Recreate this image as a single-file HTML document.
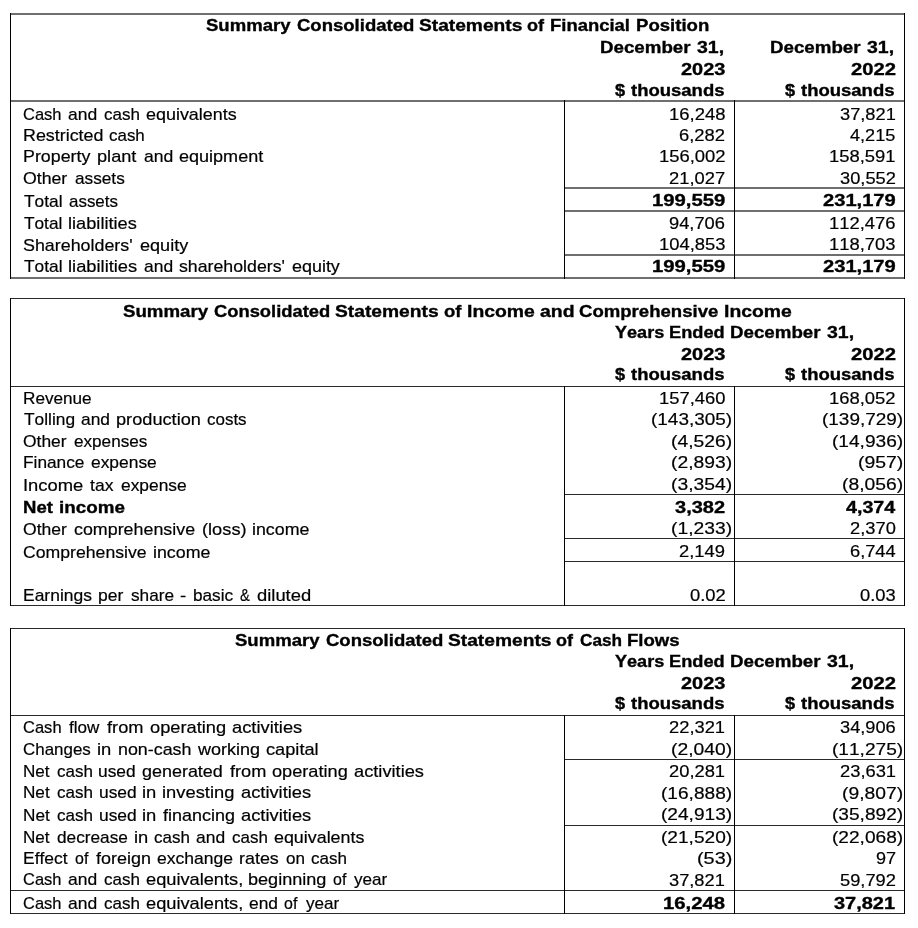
<!DOCTYPE html>
<html><head><meta charset="utf-8"><title>Summary Consolidated Statements</title>
<style>
html,body{margin:0;padding:0;background:#fff;}
body{width:918px;height:928px;position:relative;overflow:hidden;}
#w{position:absolute;left:0;top:0;width:918px;height:928px;filter:grayscale(1);}
.t{position:absolute;white-space:pre;font-family:"Liberation Sans",sans-serif;font-size:17.0px;line-height:20px;color:#000;-webkit-text-stroke:0.2px #000;transform-origin:0 0;font-kerning:none;font-variant-ligatures:none;}
.b{font-weight:bold;-webkit-text-stroke:0.35px #000;}
.l{position:absolute;}
</style></head><body><div id="w">
<div class="l" style="left:10px;top:13px;width:895px;height:2px;background:#6f6f6f"></div>
<div class="l" style="left:10px;top:100px;width:895px;height:2px;background:#6f6f6f"></div>
<div class="l" style="left:10px;top:277px;width:895px;height:2px;background:#6f6f6f"></div>
<div class="l" style="left:564px;top:187px;width:341px;height:2px;background:#6f6f6f"></div>
<div class="l" style="left:564px;top:210px;width:341px;height:2px;background:#6f6f6f"></div>
<div class="l" style="left:564px;top:254px;width:341px;height:2px;background:#6f6f6f"></div>
<div class="l" style="left:10px;top:13px;width:1px;height:266px;background:#000"></div>
<div class="l" style="left:904px;top:13px;width:1px;height:266px;background:#000"></div>
<div class="l" style="left:564px;top:100px;width:1px;height:179px;background:#000"></div>
<div class="l" style="left:734px;top:100px;width:1px;height:179px;background:#000"></div>
<div class="l" style="left:10px;top:298px;width:895px;height:1px;background:#2a2a2a"></div>
<div class="l" style="left:10px;top:386px;width:895px;height:1px;background:#2a2a2a"></div>
<div class="l" style="left:10px;top:605px;width:895px;height:1px;background:#2a2a2a"></div>
<div class="l" style="left:564px;top:494px;width:341px;height:1px;background:#2a2a2a"></div>
<div class="l" style="left:564px;top:538px;width:341px;height:1px;background:#2a2a2a"></div>
<div class="l" style="left:564px;top:561px;width:341px;height:1px;background:#2a2a2a"></div>
<div class="l" style="left:10px;top:298px;width:1px;height:308px;background:#000"></div>
<div class="l" style="left:904px;top:298px;width:1px;height:308px;background:#000"></div>
<div class="l" style="left:564px;top:386px;width:1px;height:220px;background:#000"></div>
<div class="l" style="left:734px;top:386px;width:1px;height:220px;background:#000"></div>
<div class="l" style="left:10px;top:628px;width:895px;height:1px;background:#2a2a2a"></div>
<div class="l" style="left:10px;top:715px;width:895px;height:1px;background:#2a2a2a"></div>
<div class="l" style="left:10px;top:913px;width:895px;height:1px;background:#2a2a2a"></div>
<div class="l" style="left:564px;top:759px;width:341px;height:1px;background:#2a2a2a"></div>
<div class="l" style="left:564px;top:825px;width:341px;height:1px;background:#2a2a2a"></div>
<div class="l" style="left:10px;top:890px;width:895px;height:1px;background:#2a2a2a"></div>
<div class="l" style="left:10px;top:628px;width:1px;height:286px;background:#000"></div>
<div class="l" style="left:904px;top:628px;width:1px;height:286px;background:#000"></div>
<div class="l" style="left:564px;top:715px;width:1px;height:199px;background:#000"></div>
<div class="l" style="left:734px;top:715px;width:1px;height:199px;background:#000"></div>
<div class="t b" style="left:680.51px;top:60.00px;transform:scaleX(1.1741)">2023</div>
<div class="t b" style="left:850.80px;top:60.00px;transform:scaleX(1.1899)">2022</div>
<div class="t" style="left:23.36px;top:105.00px;transform:scaleX(0.9715)">Cash</div>
<div class="t" style="left:68.24px;top:105.00px;transform:scaleX(1.0302)">and</div>
<div class="t" style="left:103.76px;top:105.00px;transform:scaleX(1.0029)">cash</div>
<div class="t" style="left:146.05px;top:105.00px;transform:scaleX(1.0544)">equivalents</div>
<div class="t" style="left:668.75px;top:105.00px;transform:scaleX(1.0856)">16,248</div>
<div class="t" style="left:839.86px;top:105.00px;transform:scaleX(1.0736)">37,821</div>
<div class="t" style="left:22.73px;top:126.00px;transform:scaleX(1.0511)">Restricted</div>
<div class="t" style="left:109.39px;top:126.00px;transform:scaleX(0.9968)">cash</div>
<div class="t" style="left:679.28px;top:126.00px;transform:scaleX(1.0822)">6,282</div>
<div class="t" style="left:850.20px;top:126.00px;transform:scaleX(1.0662)">4,215</div>
<div class="t" style="left:22.74px;top:147.00px;transform:scaleX(1.0480)">Property</div>
<div class="t" style="left:97.03px;top:147.00px;transform:scaleX(1.0689)">plant</div>
<div class="t" style="left:143.73px;top:147.00px;transform:scaleX(1.0336)">and</div>
<div class="t" style="left:179.33px;top:147.00px;transform:scaleX(1.0606)">equipment</div>
<div class="t" style="left:658.70px;top:147.00px;transform:scaleX(1.0842)">156,002</div>
<div class="t" style="left:829.10px;top:147.00px;transform:scaleX(1.0838)">158,591</div>
<div class="t" style="left:23.36px;top:169.00px;transform:scaleX(1.0412)">Other</div>
<div class="t" style="left:74.86px;top:169.00px;transform:scaleX(1.0127)">assets</div>
<div class="t" style="left:669.24px;top:169.00px;transform:scaleX(1.0786)">21,027</div>
<div class="t" style="left:839.86px;top:169.00px;transform:scaleX(1.0742)">30,552</div>
<div class="t" style="left:23.81px;top:192.00px;transform:scaleX(1.0188)">Total</div>
<div class="t" style="left:68.54px;top:192.00px;transform:scaleX(0.9965)">assets</div>
<div class="t b" style="left:651.80px;top:191.00px;transform:scaleX(1.1936)">199,559</div>
<div class="t b" style="left:822.78px;top:191.00px;transform:scaleX(1.1841)">231,179</div>
<div class="t" style="left:23.81px;top:214.00px;transform:scaleX(1.0138)">Total</div>
<div class="t" style="left:67.81px;top:214.00px;transform:scaleX(1.0715)">liabilities</div>
<div class="t" style="left:669.30px;top:214.00px;transform:scaleX(1.0750)">94,706</div>
<div class="t" style="left:829.10px;top:214.00px;transform:scaleX(1.0823)">112,476</div>
<div class="t" style="left:23.39px;top:236.00px;transform:scaleX(1.0505)">Shareholders&#39;</div>
<div class="t" style="left:139.53px;top:236.00px;transform:scaleX(1.0623)">equity</div>
<div class="t" style="left:658.70px;top:235.00px;transform:scaleX(1.0823)">104,853</div>
<div class="t" style="left:829.10px;top:235.00px;transform:scaleX(1.0823)">118,703</div>
<div class="t" style="left:23.81px;top:257.00px;transform:scaleX(1.0187)">Total</div>
<div class="t" style="left:68.03px;top:257.00px;transform:scaleX(1.0767)">liabilities</div>
<div class="t" style="left:143.91px;top:257.00px;transform:scaleX(1.0257)">and</div>
<div class="t" style="left:179.49px;top:257.00px;transform:scaleX(1.0435)">shareholders&#39;</div>
<div class="t" style="left:291.88px;top:257.00px;transform:scaleX(1.0545)">equity</div>
<div class="t b" style="left:651.80px;top:257.00px;transform:scaleX(1.1936)">199,559</div>
<div class="t b" style="left:822.78px;top:257.00px;transform:scaleX(1.1841)">231,179</div>
<div class="t b" style="left:680.51px;top:345.00px;transform:scaleX(1.1741)">2023</div>
<div class="t b" style="left:850.80px;top:345.00px;transform:scaleX(1.1899)">2022</div>
<div class="t" style="left:22.79px;top:389.00px;transform:scaleX(1.0090)">Revenue</div>
<div class="t" style="left:658.70px;top:389.00px;transform:scaleX(1.0808)">157,460</div>
<div class="t" style="left:829.10px;top:389.00px;transform:scaleX(1.0842)">168,052</div>
<div class="t" style="left:23.81px;top:410.00px;transform:scaleX(1.0209)">Tolling</div>
<div class="t" style="left:81.16px;top:410.00px;transform:scaleX(1.0220)">and</div>
<div class="t" style="left:115.94px;top:410.00px;transform:scaleX(1.0692)">production</div>
<div class="t" style="left:207.00px;top:410.00px;transform:scaleX(0.9981)">costs</div>
<div class="t" style="left:651.33px;top:410.00px;transform:scaleX(1.1150)">(143,305)</div>
<div class="t" style="left:821.73px;top:410.00px;transform:scaleX(1.1150)">(139,729)</div>
<div class="t" style="left:23.38px;top:432.00px;transform:scaleX(1.0244)">Other</div>
<div class="t" style="left:74.03px;top:432.00px;transform:scaleX(1.0076)">expenses</div>
<div class="t" style="left:671.42px;top:432.00px;transform:scaleX(1.1336)">(4,526)</div>
<div class="t" style="left:831.77px;top:432.00px;transform:scaleX(1.1229)">(14,936)</div>
<div class="t" style="left:22.78px;top:453.00px;transform:scaleX(1.0162)">Finance</div>
<div class="t" style="left:90.91px;top:453.00px;transform:scaleX(1.0231)">expense</div>
<div class="t" style="left:671.42px;top:453.00px;transform:scaleX(1.1336)">(2,893)</div>
<div class="t" style="left:857.62px;top:453.00px;transform:scaleX(1.1409)">(957)</div>
<div class="t" style="left:22.50px;top:476.00px;transform:scaleX(1.0814)">Income</div>
<div class="t" style="left:89.87px;top:476.00px;transform:scaleX(1.0325)">tax</div>
<div class="t" style="left:120.53px;top:476.00px;transform:scaleX(1.0227)">expense</div>
<div class="t" style="left:671.42px;top:475.00px;transform:scaleX(1.1336)">(3,354)</div>
<div class="t" style="left:841.82px;top:475.00px;transform:scaleX(1.1336)">(8,056)</div>
<div class="t b" style="left:675.12px;top:498.00px;transform:scaleX(1.1771)">3,382</div>
<div class="t b" style="left:845.68px;top:498.00px;transform:scaleX(1.1569)">4,374</div>
<div class="t" style="left:23.37px;top:520.00px;transform:scaleX(1.0327)">Other</div>
<div class="t" style="left:74.41px;top:520.00px;transform:scaleX(1.0502)">comprehensive</div>
<div class="t" style="left:201.72px;top:520.00px;transform:scaleX(1.0724)">(loss)</div>
<div class="t" style="left:252.13px;top:520.00px;transform:scaleX(1.0483)">income</div>
<div class="t" style="left:671.42px;top:519.00px;transform:scaleX(1.1336)">(1,233)</div>
<div class="t" style="left:849.69px;top:519.00px;transform:scaleX(1.0769)">2,370</div>
<div class="t" style="left:23.30px;top:543.00px;transform:scaleX(1.0379)">Comprehensive</div>
<div class="t" style="left:153.07px;top:543.00px;transform:scaleX(1.0477)">income</div>
<div class="t" style="left:679.29px;top:542.00px;transform:scaleX(1.0807)">2,149</div>
<div class="t" style="left:849.69px;top:542.00px;transform:scaleX(1.0728)">6,744</div>
<div class="t" style="left:22.77px;top:586.00px;transform:scaleX(1.0273)">Earnings</div>
<div class="t" style="left:98.08px;top:586.00px;transform:scaleX(1.0285)">per</div>
<div class="t" style="left:130.72px;top:586.00px;transform:scaleX(1.0137)">share</div>
<div class="t" style="left:180.37px;top:586.00px;transform:scaleX(1.1036)">-</div>
<div class="t" style="left:192.82px;top:586.00px;transform:scaleX(1.0104)">basic</div>
<div class="t" style="left:240.09px;top:586.00px;transform:scaleX(0.8614)">&amp;</div>
<div class="t" style="left:256.99px;top:586.00px;transform:scaleX(1.0815)">diluted</div>
<div class="t" style="left:689.56px;top:586.00px;transform:scaleX(1.0808)">0.02</div>
<div class="t" style="left:859.96px;top:586.00px;transform:scaleX(1.0772)">0.03</div>
<div class="t b" style="left:680.51px;top:674.00px;transform:scaleX(1.1741)">2023</div>
<div class="t b" style="left:850.80px;top:674.00px;transform:scaleX(1.1899)">2022</div>
<div class="t" style="left:23.36px;top:718.00px;transform:scaleX(0.9720)">Cash</div>
<div class="t" style="left:68.77px;top:718.00px;transform:scaleX(1.0039)">flow</div>
<div class="t" style="left:107.04px;top:718.00px;transform:scaleX(1.0725)">from</div>
<div class="t" style="left:149.68px;top:718.00px;transform:scaleX(1.0731)">operating</div>
<div class="t" style="left:231.94px;top:718.00px;transform:scaleX(1.0772)">activities</div>
<div class="t" style="left:669.24px;top:718.00px;transform:scaleX(1.0781)">22,321</div>
<div class="t" style="left:839.86px;top:718.00px;transform:scaleX(1.0719)">34,906</div>
<div class="t" style="left:23.34px;top:740.00px;transform:scaleX(0.9961)">Changes</div>
<div class="t" style="left:97.43px;top:740.00px;transform:scaleX(1.0820)">in</div>
<div class="t" style="left:117.50px;top:740.00px;transform:scaleX(1.0506)">non-cash</div>
<div class="t" style="left:197.98px;top:740.00px;transform:scaleX(1.0588)">working</div>
<div class="t" style="left:266.21px;top:740.00px;transform:scaleX(1.0704)">capital</div>
<div class="t" style="left:671.42px;top:740.00px;transform:scaleX(1.1336)">(2,040)</div>
<div class="t" style="left:831.77px;top:740.00px;transform:scaleX(1.1229)">(11,275)</div>
<div class="t" style="left:22.80px;top:762.00px;transform:scaleX(1.0049)">Net</div>
<div class="t" style="left:56.66px;top:762.00px;transform:scaleX(0.9996)">cash</div>
<div class="t" style="left:98.45px;top:762.00px;transform:scaleX(1.0192)">used</div>
<div class="t" style="left:142.28px;top:762.00px;transform:scaleX(1.0553)">generated</div>
<div class="t" style="left:229.79px;top:762.00px;transform:scaleX(1.0684)">from</div>
<div class="t" style="left:272.26px;top:762.00px;transform:scaleX(1.0690)">operating</div>
<div class="t" style="left:354.21px;top:762.00px;transform:scaleX(1.0731)">activities</div>
<div class="t" style="left:669.24px;top:762.00px;transform:scaleX(1.0781)">20,281</div>
<div class="t" style="left:839.64px;top:762.00px;transform:scaleX(1.0781)">23,631</div>
<div class="t" style="left:22.79px;top:783.00px;transform:scaleX(1.0078)">Net</div>
<div class="t" style="left:56.75px;top:783.00px;transform:scaleX(1.0024)">cash</div>
<div class="t" style="left:98.66px;top:783.00px;transform:scaleX(1.0221)">used</div>
<div class="t" style="left:142.13px;top:783.00px;transform:scaleX(1.0823)">in</div>
<div class="t" style="left:162.17px;top:783.00px;transform:scaleX(1.0784)">investing</div>
<div class="t" style="left:240.71px;top:783.00px;transform:scaleX(1.0761)">activities</div>
<div class="t" style="left:661.37px;top:784.00px;transform:scaleX(1.1229)">(16,888)</div>
<div class="t" style="left:841.82px;top:784.00px;transform:scaleX(1.1336)">(9,807)</div>
<div class="t" style="left:22.79px;top:806.00px;transform:scaleX(1.0088)">Net</div>
<div class="t" style="left:56.79px;top:806.00px;transform:scaleX(1.0034)">cash</div>
<div class="t" style="left:98.74px;top:806.00px;transform:scaleX(1.0232)">used</div>
<div class="t" style="left:142.26px;top:806.00px;transform:scaleX(1.0834)">in</div>
<div class="t" style="left:163.28px;top:806.00px;transform:scaleX(1.0571)">financing</div>
<div class="t" style="left:241.44px;top:806.00px;transform:scaleX(1.0772)">activities</div>
<div class="t" style="left:661.37px;top:805.00px;transform:scaleX(1.1229)">(24,913)</div>
<div class="t" style="left:831.77px;top:805.00px;transform:scaleX(1.1229)">(35,892)</div>
<div class="t" style="left:22.80px;top:828.00px;transform:scaleX(1.0048)">Net</div>
<div class="t" style="left:56.65px;top:828.00px;transform:scaleX(1.0138)">decrease</div>
<div class="t" style="left:133.67px;top:828.00px;transform:scaleX(1.0791)">in</div>
<div class="t" style="left:154.15px;top:828.00px;transform:scaleX(0.9994)">cash</div>
<div class="t" style="left:196.32px;top:828.00px;transform:scaleX(1.0266)">and</div>
<div class="t" style="left:231.71px;top:828.00px;transform:scaleX(0.9994)">cash</div>
<div class="t" style="left:273.86px;top:828.00px;transform:scaleX(1.0508)">equivalents</div>
<div class="t" style="left:661.37px;top:828.00px;transform:scaleX(1.1229)">(21,520)</div>
<div class="t" style="left:831.77px;top:828.00px;transform:scaleX(1.1229)">(22,068)</div>
<div class="t" style="left:22.77px;top:849.00px;transform:scaleX(1.0258)">Effect</div>
<div class="t" style="left:74.68px;top:849.00px;transform:scaleX(0.9396)">of</div>
<div class="t" style="left:95.90px;top:849.00px;transform:scaleX(1.0561)">foreign</div>
<div class="t" style="left:157.01px;top:849.00px;transform:scaleX(1.0310)">exchange</div>
<div class="t" style="left:239.19px;top:849.00px;transform:scaleX(1.0536)">rates</div>
<div class="t" style="left:285.77px;top:849.00px;transform:scaleX(1.0041)">on</div>
<div class="t" style="left:311.05px;top:849.00px;transform:scaleX(1.0008)">cash</div>
<div class="t" style="left:697.26px;top:849.00px;transform:scaleX(1.1667)">(53)</div>
<div class="t" style="left:875.64px;top:849.00px;transform:scaleX(1.0605)">97</div>
<div class="t" style="left:23.36px;top:870.00px;transform:scaleX(0.9690)">Cash</div>
<div class="t" style="left:68.13px;top:870.00px;transform:scaleX(1.0275)">and</div>
<div class="t" style="left:103.55px;top:870.00px;transform:scaleX(1.0003)">cash</div>
<div class="t" style="left:145.72px;top:870.00px;transform:scaleX(1.0716)">equivalents,</div>
<div class="t" style="left:248.27px;top:870.00px;transform:scaleX(1.0630)">beginning</div>
<div class="t" style="left:332.94px;top:870.00px;transform:scaleX(0.9392)">of</div>
<div class="t" style="left:354.37px;top:870.00px;transform:scaleX(1.0042)">year</div>
<div class="t" style="left:669.46px;top:871.00px;transform:scaleX(1.0736)">37,821</div>
<div class="t" style="left:839.83px;top:871.00px;transform:scaleX(1.0749)">59,792</div>
<div class="t" style="left:23.36px;top:894.00px;transform:scaleX(0.9695)">Cash</div>
<div class="t" style="left:68.15px;top:894.00px;transform:scaleX(1.0280)">and</div>
<div class="t" style="left:103.59px;top:894.00px;transform:scaleX(1.0008)">cash</div>
<div class="t" style="left:145.78px;top:894.00px;transform:scaleX(1.0722)">equivalents,</div>
<div class="t" style="left:248.81px;top:894.00px;transform:scaleX(1.0213)">end</div>
<div class="t" style="left:284.12px;top:894.00px;transform:scaleX(0.9396)">of</div>
<div class="t" style="left:305.55px;top:894.00px;transform:scaleX(1.0047)">year</div>
<div class="t b" style="left:663.05px;top:894.00px;transform:scaleX(1.1917)">16,248</div>
<div class="t b" style="left:834.27px;top:894.00px;transform:scaleX(1.1747)">37,821</div>
<div class="t b" style="left:205.97px;top:16.00px;transform:scaleX(1.0910)">Summary</div>
<div class="t b" style="left:296.64px;top:16.00px;transform:scaleX(1.0892)">Consolidated</div>
<div class="t b" style="left:418.65px;top:16.00px;transform:scaleX(1.1276)">Statements</div>
<div class="t b" style="left:527.39px;top:16.00px;transform:scaleX(1.0638)">of</div>
<div class="t b" style="left:550.27px;top:16.00px;transform:scaleX(1.0848)">Financial</div>
<div class="t b" style="left:635.76px;top:16.00px;transform:scaleX(1.0929)">Position</div>
<div class="t b" style="left:599.85px;top:38.00px;transform:scaleX(1.1012)">December</div>
<div class="t b" style="left:697.45px;top:38.00px;transform:scaleX(1.1441)">31,</div>
<div class="t b" style="left:769.85px;top:38.00px;transform:scaleX(1.1012)">December</div>
<div class="t b" style="left:867.45px;top:38.00px;transform:scaleX(1.1441)">31,</div>
<div class="t b" style="left:614.96px;top:81.00px;transform:scaleX(1.0662)">$</div>
<div class="t b" style="left:631.07px;top:81.00px;transform:scaleX(1.0876)">thousands</div>
<div class="t b" style="left:785.06px;top:81.00px;transform:scaleX(1.0662)">$</div>
<div class="t b" style="left:801.17px;top:81.00px;transform:scaleX(1.0876)">thousands</div>
<div class="t b" style="left:123.16px;top:302.00px;transform:scaleX(1.0988)">Summary</div>
<div class="t b" style="left:214.45px;top:302.00px;transform:scaleX(1.0788)">Consolidated</div>
<div class="t b" style="left:335.45px;top:302.00px;transform:scaleX(1.1310)">Statements</div>
<div class="t b" style="left:444.18px;top:302.00px;transform:scaleX(1.0898)">of</div>
<div class="t b" style="left:467.01px;top:302.00px;transform:scaleX(1.1382)">Income</div>
<div class="t b" style="left:540.43px;top:302.00px;transform:scaleX(1.1427)">and</div>
<div class="t b" style="left:579.24px;top:302.00px;transform:scaleX(1.0921)">Comprehensive</div>
<div class="t b" style="left:724.11px;top:302.00px;transform:scaleX(1.1382)">Income</div>
<div class="t b" style="left:614.59px;top:323.00px;transform:scaleX(1.0631)">Years</div>
<div class="t b" style="left:669.28px;top:323.00px;transform:scaleX(1.0725)">Ended</div>
<div class="t b" style="left:729.95px;top:323.00px;transform:scaleX(1.1012)">December</div>
<div class="t b" style="left:827.45px;top:323.00px;transform:scaleX(1.1441)">31,</div>
<div class="t b" style="left:614.76px;top:365.00px;transform:scaleX(1.0662)">$</div>
<div class="t b" style="left:630.87px;top:365.00px;transform:scaleX(1.0876)">thousands</div>
<div class="t b" style="left:785.06px;top:365.00px;transform:scaleX(1.0662)">$</div>
<div class="t b" style="left:801.17px;top:365.00px;transform:scaleX(1.0876)">thousands</div>
<div class="t b" style="left:23.36px;top:498.00px;transform:scaleX(1.0897)">Net</div>
<div class="t b" style="left:58.79px;top:498.00px;transform:scaleX(1.1062)">income</div>
<div class="t b" style="left:235.17px;top:631.00px;transform:scaleX(1.0910)">Summary</div>
<div class="t b" style="left:325.74px;top:631.00px;transform:scaleX(1.0892)">Consolidated</div>
<div class="t b" style="left:447.85px;top:631.00px;transform:scaleX(1.1288)">Statements</div>
<div class="t b" style="left:556.40px;top:631.00px;transform:scaleX(1.0573)">of</div>
<div class="t b" style="left:579.89px;top:631.00px;transform:scaleX(1.0119)">Cash</div>
<div class="t b" style="left:627.26px;top:631.00px;transform:scaleX(1.0920)">Flows</div>
<div class="t b" style="left:614.59px;top:652.00px;transform:scaleX(1.0631)">Years</div>
<div class="t b" style="left:669.28px;top:652.00px;transform:scaleX(1.0725)">Ended</div>
<div class="t b" style="left:729.95px;top:652.00px;transform:scaleX(1.1012)">December</div>
<div class="t b" style="left:827.45px;top:652.00px;transform:scaleX(1.1441)">31,</div>
<div class="t b" style="left:614.76px;top:694.00px;transform:scaleX(1.0662)">$</div>
<div class="t b" style="left:630.87px;top:694.00px;transform:scaleX(1.0876)">thousands</div>
<div class="t b" style="left:785.06px;top:694.00px;transform:scaleX(1.0662)">$</div>
<div class="t b" style="left:801.17px;top:694.00px;transform:scaleX(1.0876)">thousands</div>
</div></body></html>
